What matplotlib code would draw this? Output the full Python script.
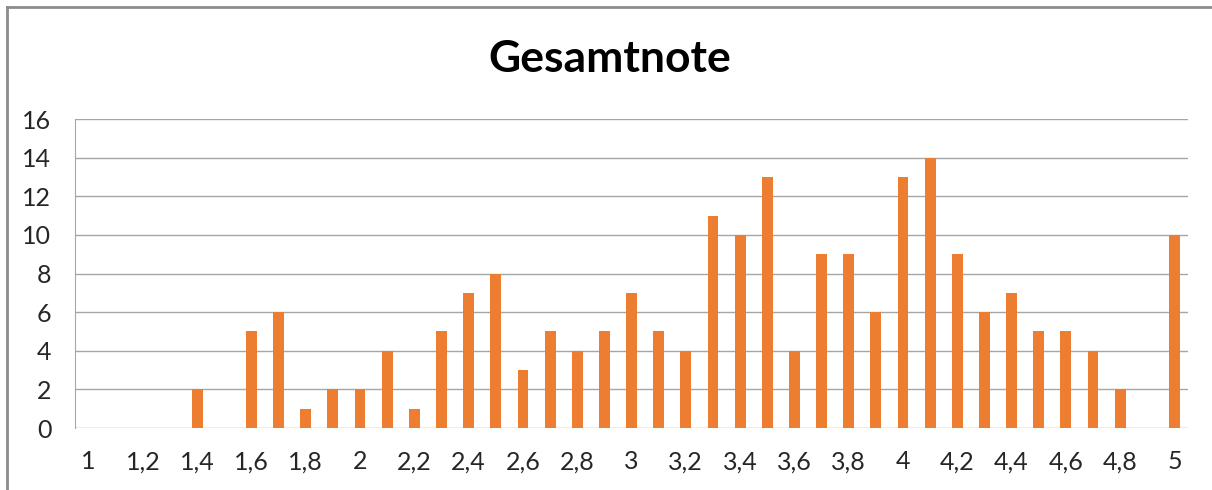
import matplotlib.pyplot as plt
import numpy as np

plt.rcParams['font.family'] = ['Lato', 'DejaVu Sans']

noten = [1.0, 1.1, 1.2, 1.3, 1.4, 1.5, 1.6, 1.7, 1.8, 1.9,
         2.0, 2.1, 2.2, 2.3, 2.4, 2.5, 2.6, 2.7, 2.8, 2.9,
         3.0, 3.1, 3.2, 3.3, 3.4, 3.5, 3.6, 3.7, 3.8, 3.9,
         4.0, 4.1, 4.2, 4.3, 4.4, 4.5, 4.6, 4.7, 4.8, 4.9, 5.0]
anzahl = [0, 0, 0, 0, 2, 0, 5, 6, 1, 2,
          2, 4, 1, 5, 7, 8, 3, 5, 4, 5,
          7, 5, 4, 11, 10, 13, 4, 9, 9, 6,
          13, 14, 9, 6, 7, 5, 5, 4, 2, 0, 10]

labels = [('%g' % n).replace('.', ',') for n in noten]

fig = plt.figure(figsize=(12.12, 4.9), dpi=100)
ax = fig.add_axes([0.0619, 0.1265, 0.9183, 0.6306])

x = np.arange(len(noten))
ax.bar(x, anzahl, width=0.4, color='#ED7D31', zorder=3)

ax.set_xlim(-0.5, len(noten) - 0.5)
ax.set_ylim(0, 16)
ax.set_yticks(range(0, 17, 2))
ax.set_xticks(x[::2])
ax.set_xticklabels(labels[::2])
ax.grid(axis='y', color='#a6a6a6', linewidth=1, zorder=0)
for s in ['top', 'right', 'bottom']:
    ax.spines[s].set_visible(False)
ax.spines['left'].set_color('#a6a6a6')
ax.tick_params(length=0, labelsize=18, colors='#262626')
ax.tick_params(axis='y', pad=17)
ax.tick_params(axis='x', pad=16)

fig.text(0.503, 0.88, 'Gesamtnote', ha='center', va='center',
         fontsize=32, fontweight='bold')

# Rahmen links und oben
fig.add_artist(plt.Line2D([0.006, 0.006], [0, 0.986], color='#8c8c8c', lw=2))
fig.add_artist(plt.Line2D([0.006, 1], [0.986, 0.986], color='#8c8c8c', lw=2))

fig.savefig('out.png')
